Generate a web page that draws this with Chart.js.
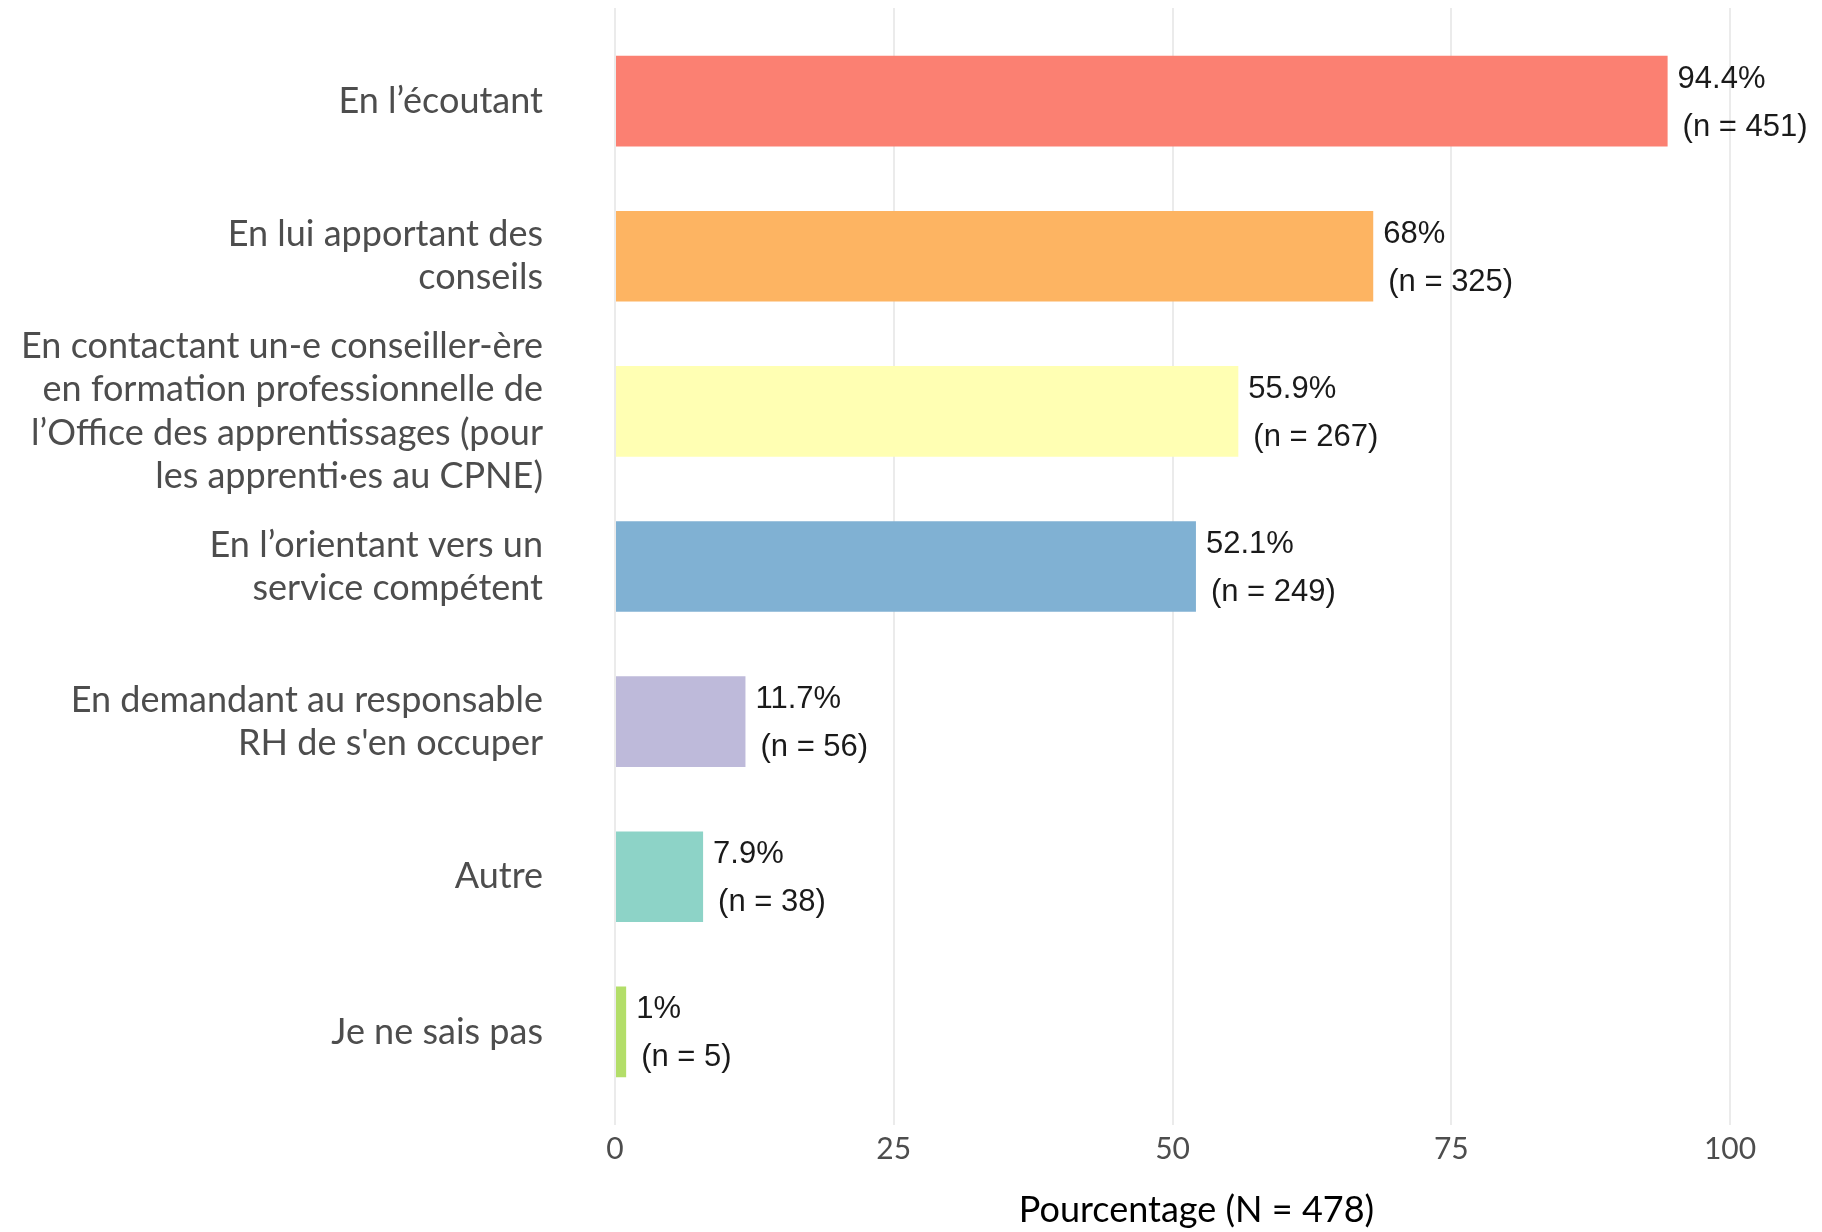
<!DOCTYPE html>
<html>
<head>
<meta charset="utf-8">
<script src="https://cdn.jsdelivr.net/npm/chart.js@4"></script>
<style>
  html, body { margin: 0; padding: 0; background: #fff; }
  #wrap { width: 1822px; height: 1232px; }
</style>
</head>
<body>
<div id="wrap"><canvas id="myChart" width="1822" height="1232"></canvas></div>
<script>
// answers, top to bottom (multi-line labels are arrays)
const categories = [
  ["En l\u2019écoutant"],
  ["En lui apportant des", "conseils"],
  ["En contactant un-e conseiller-ère", "en formation professionnelle de", "l\u2019Office des apprentissages (pour", "les apprenti\u00b7es au CPNE)"],
  ["En l\u2019orientant vers un", "service compétent"],
  ["En demandant au responsable", "RH de s'en occuper"],
  ["Autre"],
  ["Je ne sais pas"]
];
const percentages = [94.4, 68, 55.9, 52.1, 11.7, 7.9, 1];
const counts = [451, 325, 267, 249, 56, 38, 5];
const barColors = ["#FB8072", "#FDB462", "#FFFFB3", "#80B1D3", "#BEBADA", "#8DD3C7", "#B3DE69"];
const xTicks = [0, 25, 50, 75, 100];
const totalN = 478;

const labelFont = "Lato, 'Open Sans', sans-serif";

// percentage + count written to the right of each bar
const barLabels = {
  id: "barLabels",
  afterDatasetsDraw(chart) {
    const ctx = chart.ctx;
    const meta = chart.getDatasetMeta(0);
    ctx.save();
    ctx.font = "31px 'Liberation Sans', Arial, sans-serif";
    ctx.fillStyle = "#1a1a1a";
    ctx.textAlign = "left";
    ctx.textBaseline = "middle";
    meta.data.forEach((bar, i) => {
      const x = bar.x + 10;
      ctx.fillText(percentages[i] + "%", x, bar.y - 22);
      ctx.fillText("(n = " + counts[i] + ")", x + 5, bar.y + 26);
    });
    ctx.restore();
  }
};

new Chart("myChart", {
  type: "bar",
  data: {
    datasets: [{
      data: percentages.map((p, i) => ({ x: p, y: i })),
      backgroundColor: barColors,
      borderWidth: 0,
      barPercentage: 0.584,
      categoryPercentage: 1
    }]
  },
  options: {
    indexAxis: "y",
    responsive: false,
    animation: false,
    layout: { padding: { top: 8, right: 44, left: 0, bottom: 0 } },
    plugins: {
      legend: { display: false },
      tooltip: { enabled: false }
    },
    scales: {
      x: {
        type: "linear",
        min: 0,
        max: 104.3,
        afterBuildTicks: (axis) => { axis.ticks = xTicks.map(v => ({ value: v })); },
        afterFit: (axis) => { axis.height = 107; },
        grid: { color: "#EBEBEB", lineWidth: 2, drawTicks: false },
        border: { display: false },
        ticks: {
          padding: 6,
          color: "#4D4D4D",
          autoSkip: false,
          maxRotation: 0,
          font: { family: labelFont, size: 30 }
        },
        title: {
          display: true,
          text: "Pourcentage (N = " + totalN + ")",
          color: "#000",
          padding: 0,
          font: { family: labelFont, size: 36 }
        }
      },
      y: {
        type: "linear",
        reverse: true,
        offset: false,
        bounds: "data",
        grace: 0,
        min: -0.6,
        max: categories.length - 0.4,
        afterBuildTicks: (axis) => { axis.ticks = categories.map((c, i) => ({ value: i })); },
        afterFit: (axis) => {
          axis.width = 615;
          axis.paddingTop = 0;
          axis.paddingBottom = 0;
        },
        grid: { display: false, drawTicks: false },
        border: { display: false },
        ticks: {
          padding: 72,
          autoSkip: false,
          color: "#4D4D4D",
          callback: (v) => categories[v],
          font: { family: labelFont, size: 36, lineHeight: 1.2 }
        }
      }
    }
  },
  plugins: [barLabels]
});
</script>
</body>
</html>
